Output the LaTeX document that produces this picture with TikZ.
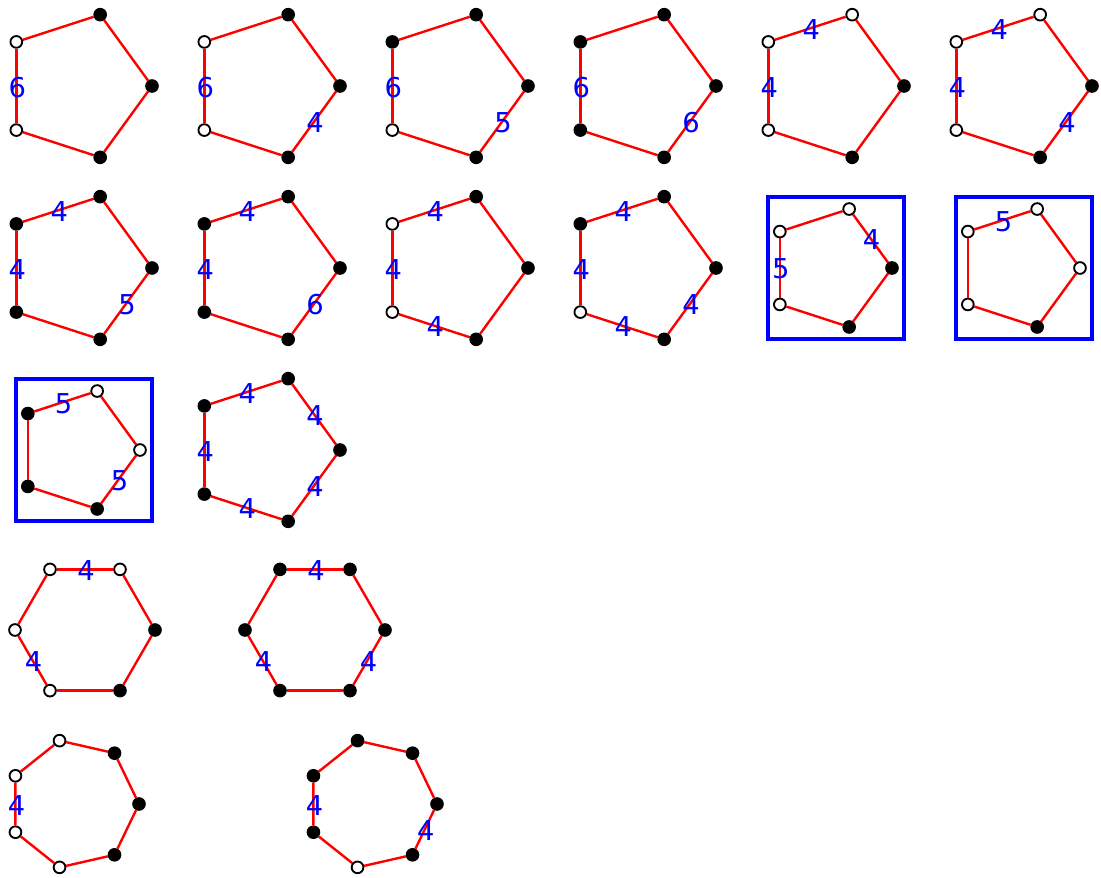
\documentclass[tikz,border=0pt]{standalone}
\usepackage{fontspec}
\setmainfont{DejaVu Sans}
\usetikzlibrary{calc}

% one polygon: name, centre, corners, radius, dots, edge/label pairs
\newcommand{\coxeter}[6]{%
  \foreach \s [count=\i from 0] in {#5}
    \node[\s] (#1-\i) at ($(#2)+({-360/#3*\i}:#4)$) {};
  \foreach \i in {1,...,#3} {
    \pgfmathtruncatemacro\j{mod(\i,#3)}
    \pgfmathtruncatemacro\k{\i-1}
    \draw[link] (#1-\k) -- (#1-\j);
  }
  \foreach \e/\t in {#6} {
    \pgfmathtruncatemacro\j{mod(\e+1,#3)}
    \path (#1-\e) -- (#1-\j) node[midway,num] {\t};
  }
}

\begin{document}
\begin{tikzpicture}[x=0.75pt,y=-0.75pt,
    link/.style={red,line width=1.8pt},
    bdot/.style={circle,draw=black,fill=black,line width=1.4pt,inner sep=0pt,minimum size=8.8pt},
    wdot/.style={circle,draw=black,fill=white,line width=1.4pt,inner sep=0pt,minimum size=8.8pt},
    num/.style={blue,inner sep=0pt,xshift=0.8pt,yshift=-0.8pt,font=\fontsize{20.5}{20.5}\selectfont},
    frame/.style={draw=blue,line width=2.3pt,inner sep=0pt,minimum width=102pt,minimum height=106.5pt}]
\useasboundingbox (0,0) rectangle (1101,878);

    % Pentagons, first row
    \coxeter{p1}{77,86}{5}{75}{bdot,bdot,wdot,wdot,bdot}{2/6}
    \coxeter{p2}{265,86}{5}{75}{bdot,bdot,wdot,wdot,bdot}{2/6,4/4}
    \coxeter{p3}{453,86}{5}{75}{bdot,bdot,bdot,wdot,bdot}{2/6,4/5}
    \coxeter{p4}{641,86}{5}{75}{bdot,bdot,bdot,bdot,bdot}{2/6,4/6}
    \coxeter{p5}{829,86}{5}{75}{bdot,wdot,wdot,wdot,bdot}{1/4,2/4}
    \coxeter{p6}{1017,86}{5}{75}{bdot,wdot,wdot,wdot,bdot}{1/4,2/4,4/4}

    % second row
    \coxeter{p7}{77,268}{5}{75}{bdot,bdot,bdot,bdot,bdot}{1/4,2/4,4/5}
    \coxeter{p8}{265,268}{5}{75}{bdot,bdot,bdot,bdot,bdot}{1/4,2/4,4/6}
    \coxeter{p9}{453,268}{5}{75}{bdot,bdot,wdot,wdot,bdot}{1/4,2/4,3/4}
    \coxeter{p10}{641,268}{5}{75}{bdot,bdot,bdot,wdot,bdot}{1/4,2/4,3/4,4/4}
    \node[frame] (f1) at (836,268) {};
    \coxeter{p11}{830,268}{5}{62}{bdot,wdot,wdot,wdot,bdot}{0/4,2/5}
    \node[frame] (f2) at (1024,268) {};
    \coxeter{p12}{1018,268}{5}{62}{wdot,wdot,wdot,wdot,bdot}{1/5}

    % third row
    \node[frame] (f3) at (84,450) {};
    \coxeter{p13}{78,450}{5}{62}{wdot,wdot,bdot,bdot,bdot}{1/5,4/5}
    \coxeter{p14}{265,450}{5}{75}{bdot,bdot,bdot,bdot,bdot}{0/4,1/4,2/4,3/4,4/4}

    % Hexagons
    \coxeter{h1}{85,630}{6}{70}{bdot,wdot,wdot,wdot,wdot,bdot}{1/4,3/4}
    \coxeter{h2}{315,630}{6}{70}{bdot,bdot,bdot,bdot,bdot,bdot}{1/4,3/4,5/4}

    % Heptagons
    \coxeter{s1}{74,804}{7}{65}{bdot,bdot,wdot,wdot,wdot,wdot,bdot}{3/4}
    \coxeter{s2}{372,804}{7}{65}{bdot,bdot,bdot,bdot,bdot,wdot,bdot}{3/4,6/4}
\end{tikzpicture}
\end{document}
